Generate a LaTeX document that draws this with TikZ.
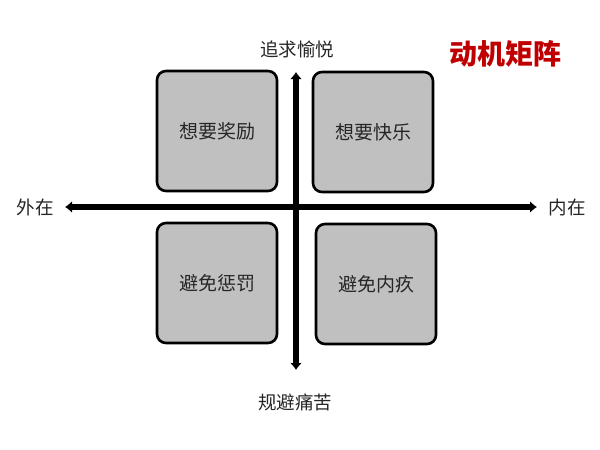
\documentclass[tikz,border=0pt]{standalone}
\usepackage{fontspec}
\setmainfont{Noto Sans CJK SC}
\usetikzlibrary{arrows.meta}
\definecolor{boxgray}{HTML}{C0C0C0}
\definecolor{titlered}{HTML}{C00000}
\definecolor{txt}{HTML}{262626}
\begin{document}
\begin{tikzpicture}[x=1pt,y=-1pt,
  quad/.style={draw=black,line width=2.6pt,fill=boxgray,rounded corners=9pt,
    minimum width=120pt,minimum height=120pt,inner sep=0pt,
    font=\fontsize{19}{22}\selectfont,text=txt},
  axislabel/.style={font=\fontsize{18.5}{22}\selectfont,text=txt,inner sep=0pt},
  axis/.style={line width=6pt,-{Latex[length=7pt,width=12pt]},shorten >=0pt}
]
\useasboundingbox (0,0) rectangle (600,450);
\node[quad] (tl) at (217,131) {想要奖励};
\node[quad] (tr) at (373,132) {想要快乐};
\node[quad] (bl) at (217,283) {避免惩罚};
\node[quad] (br) at (376,284) {避免内疚};
\coordinate (left) at (65,207);
\coordinate (right) at (537,207);
\coordinate (top) at (296,72);
\coordinate (bottom) at (296,370);
\coordinate (center) at (296,207);
\draw[axis] (center) -- (left);
\draw[axis] (center) -- (right);
\draw[axis] (center) -- (top);
\draw[axis] (center) -- (bottom);
\node[axislabel] (lo) at (35,207) {外在};
\node[axislabel] (ri) at (567,207) {内在};
\node[axislabel] (up) at (297,49) {追求愉悦};
\node[axislabel] (dn) at (295,402) {规避痛苦};
\node[font=\fontsize{28}{32}\selectfont\bfseries,text=titlered,inner sep=0pt] (title) at (505,54) {动机矩阵};
\end{tikzpicture}
\end{document}
